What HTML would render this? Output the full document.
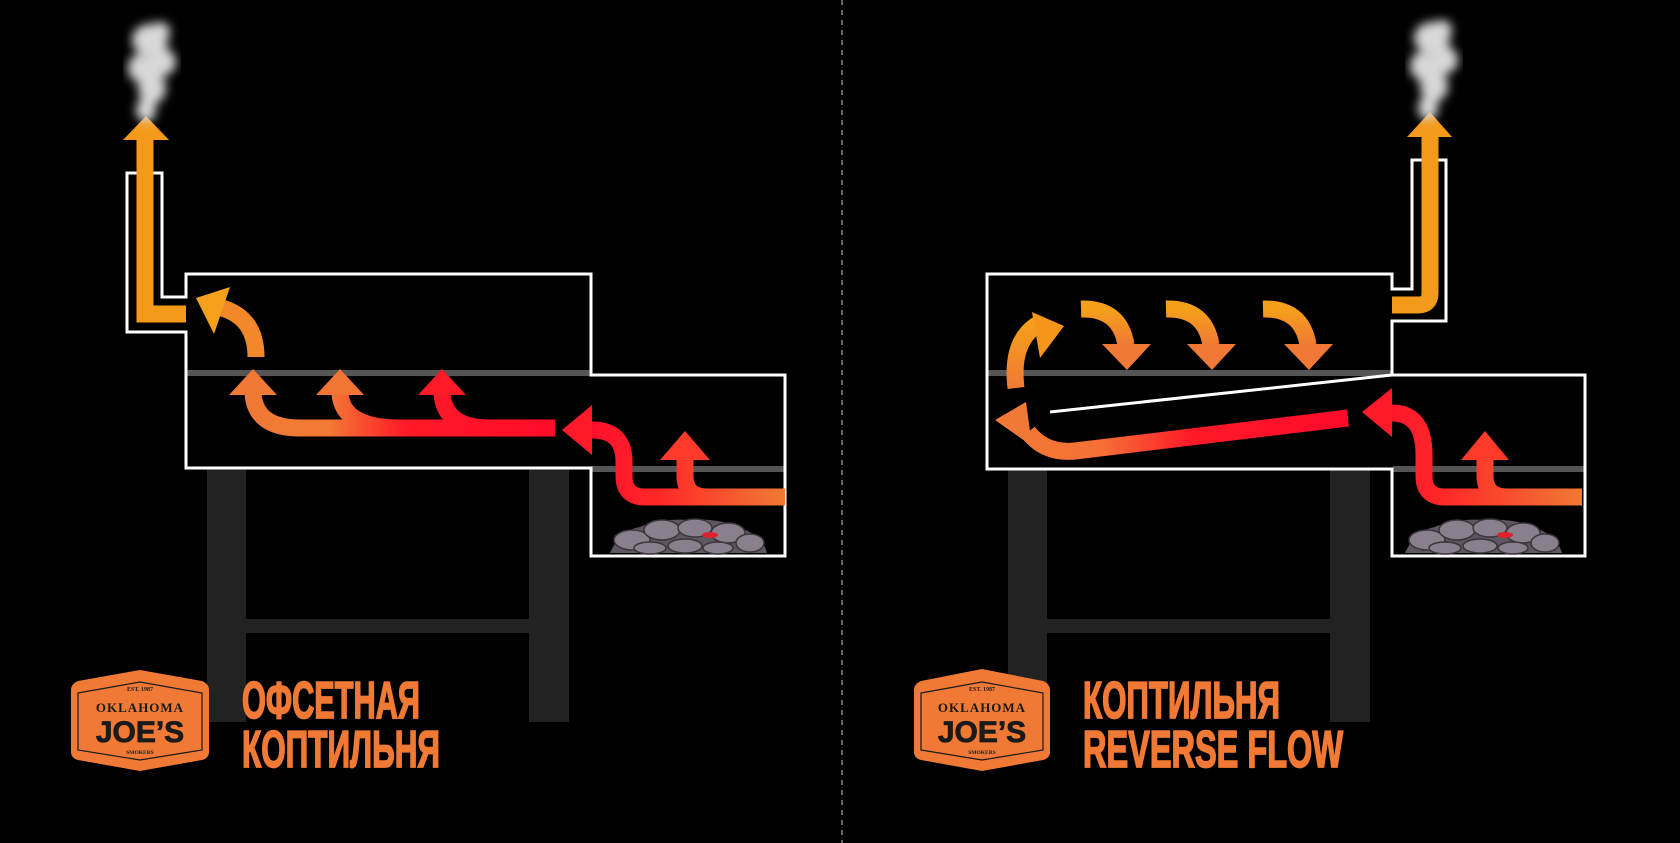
<!DOCTYPE html>
<html><head><meta charset="utf-8"><style>
html,body{margin:0;padding:0;background:#000;}
svg{display:block}
</style></head><body>
<svg width="1680" height="843" viewBox="0 0 1680 843" xmlns="http://www.w3.org/2000/svg">
<defs>
<linearGradient id="gL" gradientUnits="userSpaceOnUse" x1="250" y1="0" x2="560" y2="0">
<stop offset="0" stop-color="#f07a35"/><stop offset="0.25" stop-color="#f27a35"/><stop offset="0.5" stop-color="#ff1a28"/><stop offset="1" stop-color="#ff0a2a"/></linearGradient>
<linearGradient id="gF" gradientUnits="userSpaceOnUse" x1="580" y1="0" x2="785" y2="0">
<stop offset="0" stop-color="#ff0a2a"/><stop offset="0.4" stop-color="#ff2a28"/><stop offset="1" stop-color="#f07a35"/></linearGradient>
<linearGradient id="gF2" gradientUnits="userSpaceOnUse" x1="1355" y1="0" x2="1585" y2="0">
<stop offset="0" stop-color="#ff0a2a"/><stop offset="0.4" stop-color="#ff2a28"/><stop offset="1" stop-color="#f07a35"/></linearGradient>
<linearGradient id="gR" gradientUnits="userSpaceOnUse" x1="995" y1="0" x2="1350" y2="0">
<stop offset="0" stop-color="#f07a35"/><stop offset="0.3" stop-color="#f57035"/><stop offset="0.55" stop-color="#ff1a28"/><stop offset="1" stop-color="#ff0a2a"/></linearGradient>
<linearGradient id="gD" x1="0" y1="0" x2="0" y2="1">
<stop offset="0" stop-color="#f5a01a"/><stop offset="1" stop-color="#f07a35"/></linearGradient>
<filter id="blur"><feGaussianBlur stdDeviation="3"/></filter>
<filter id="blur2"><feGaussianBlur stdDeviation="5"/></filter>
</defs>
<rect width="1680" height="843" fill="#000"/>
<line x1="842" y1="0" x2="842" y2="843" stroke="#666" stroke-width="2" stroke-dasharray="5,5"/>

<g fill="#222">
<rect x="207" y="468" width="39" height="254"/><rect x="529" y="468" width="40" height="254"/>
<rect x="246" y="619" width="283" height="14"/>
<rect x="1008" y="469" width="39" height="253"/><rect x="1330" y="469" width="40" height="253"/>
<rect x="1047" y="619" width="283" height="14"/>
</g>
<rect x="187" y="370" width="404" height="6" fill="#555"/>
<rect x="592" y="466" width="192" height="6" fill="#555"/>
<rect x="988" y="370" width="404" height="6" fill="#555"/>
<rect x="1393" y="466" width="191" height="6" fill="#555"/>
<g fill="none" stroke="#fff" stroke-width="3">
<path d="M186,274 H591 V375 H785 V556 H591 V468 H186 V332 H127 V173 H162 V297 H186 Z"/>
<path d="M987,274 H1392 V289 H1412 V160 H1446 V321 H1392 V375 H1585 V556 H1392 V469 H987 Z"/>
<line x1="1050" y1="412" x2="1392" y2="375"/>
</g>
<!-- coals -->
<g id="coals">
<path d="M610,553 Q620,530 640,527 Q660,518 690,520 Q720,518 740,528 Q762,535 767,553 Z" fill="#5e5660"/>
<g fill="#8a7f8c" stroke="#3a343c" stroke-width="1.5">
<ellipse cx="632" cy="540" rx="18" ry="10"/><ellipse cx="662" cy="530" rx="18" ry="10"/><ellipse cx="695" cy="528" rx="17" ry="9"/><ellipse cx="728" cy="533" rx="17" ry="10"/><ellipse cx="750" cy="543" rx="14" ry="9"/>
<ellipse cx="650" cy="548" rx="16" ry="6"/><ellipse cx="685" cy="546" rx="17" ry="7"/><ellipse cx="718" cy="548" rx="15" ry="6"/>
</g>
<ellipse cx="710" cy="535" rx="8" ry="3" fill="#e0202a"/>
</g>
<use href="#coals" transform="translate(795,0)"/>

<g fill="none" stroke-width="17">
<path d="M785,497 H645 Q624,497 624,476 V462 Q624,430 592,430" stroke="url(#gF)"/>
<path d="M785,497 H708 Q685,497 685,476 V458" stroke="url(#gF)"/>
<path d="M555,428 H300 Q255,428 253,393" stroke="url(#gL)"/>
<path d="M400,428 Q342,428 340,393" stroke="url(#gL)"/>
<path d="M490,428 Q444,428 442,393" stroke="url(#gL)"/>
<path d="M256,357 Q256,318 222,308" stroke="#f3882a"/>
<path d="M186,314 H145 V138" stroke="#f39a1a"/>
</g>
<polygon points="562,430 592,405 592,455" fill="#ff1a2a"/>
<polygon points="660,460 710,460 685,431" fill="#ff3a2a"/>
<polygon points="229,395 277,395 253,369" fill="#f07a35"/>
<polygon points="316,395 364,395 340,369" fill="#f27535"/>
<polygon points="418,395 466,395 442,369" fill="#ff1a28"/>
<polygon points="196,298 230,287 214,334" fill="#f5a01a"/>
<polygon points="123,140 169,140 146,116" fill="#f39a1a"/>

<g fill="none" stroke-width="17">
<path d="M1348,418 L1075,451 Q1045,454 1028,432" stroke="url(#gR)"/>
<path d="M1582,497 H1445 Q1424,497 1424,476 V455 Q1424,413 1392,413" stroke="url(#gF2)"/>
<path d="M1582,497 H1508 Q1485,497 1485,476 V458" stroke="url(#gF2)"/>
<path d="M1016,388 Q1010,338 1042,322" stroke="url(#gD)"/>
<path d="M1081,309 Q1120,308 1126,345" stroke="url(#gD)"/>
<path d="M1166,309 Q1205,308 1211,345" stroke="url(#gD)"/>
<path d="M1263,309 Q1302,308 1308,345" stroke="url(#gD)"/>
<path d="M1392,305 H1418 Q1430,305 1430,293 V135" stroke="#f39a1a"/>
</g>
<polygon points="995,420 1026,402 1032,446" fill="#f07a35"/>
<polygon points="1362,412 1392,388 1392,437" fill="#ff1a2a"/>
<polygon points="1461,460 1509,460 1485,431" fill="#ff3a2a"/>
<polygon points="1064,326 1032,312 1040,358" fill="#f5951a"/>
<polygon points="1102,344 1151,344 1127,370" fill="#f07a35"/>
<polygon points="1187,344 1236,344 1212,370" fill="#f07a35"/>
<polygon points="1284,344 1333,344 1309,370" fill="#f07a35"/>
<polygon points="1407,137 1452,137 1430,112" fill="#f39a1a"/>

<!-- smoke -->
<g id="smoke" fill="#d8d8d8" filter="url(#blur2)">
<ellipse cx="150" cy="40" rx="18" ry="16"/><ellipse cx="162" cy="62" rx="14" ry="14"/><ellipse cx="140" cy="68" rx="12" ry="14"/>
<ellipse cx="152" cy="88" rx="14" ry="16"/><ellipse cx="146" cy="110" rx="10" ry="12"/><ellipse cx="160" cy="32" rx="10" ry="10"/>
</g>
<use href="#smoke" transform="translate(1282,-2)"/>

<g font-family="'Liberation Serif', serif" font-weight="bold" fill="#1a1a1a" text-anchor="middle">
<path d="M71,690 Q71,684 78,681 L140,670 L202,681 Q209,684 209,690 V752 Q209,758 202,760 L140,771 L78,760 Q71,758 71,752 Z" fill="#f07a35"/>
<path d="M78,693 L140,682 L202,693 V750 L140,760 L78,750 Z" fill="none" stroke="#1a1a1a" stroke-width="1.2"/>
<text x="140" y="691" font-size="6">EST. 1987</text>
<text x="140" y="712" font-size="13" letter-spacing="1">OKLAHOMA</text>
<text x="140" y="742" font-size="30" font-family="'Liberation Sans Narrow','Liberation Sans',sans-serif" stroke="#1a1a1a" stroke-width="0.8">JOE’S</text>
<text x="140" y="754" font-size="5.5">SMOKERS</text>
<path d="M914,690 Q914,684 921,681 L982,669 L1043,681 Q1050,684 1050,690 V752 Q1050,758 1043,760 L982,771 L921,760 Q914,758 914,752 Z" fill="#f07a35"/>
<path d="M921,693 L982,682 L1043,693 V750 L982,760 L921,750 Z" fill="none" stroke="#1a1a1a" stroke-width="1.2"/>
<text x="982" y="691" font-size="6">EST. 1987</text>
<text x="982" y="712" font-size="13" letter-spacing="1">OKLAHOMA</text>
<text x="982" y="742" font-size="30" font-family="'Liberation Sans Narrow','Liberation Sans',sans-serif" stroke="#1a1a1a" stroke-width="0.8">JOE’S</text>
<text x="982" y="754" font-size="5.5">SMOKERS</text>
</g>

<g font-family="'Liberation Sans Narrow','Liberation Sans',sans-serif" font-weight="bold" font-size="52" fill="#f07a35" stroke="#f07a35" stroke-width="1.8">
<text x="242" y="718" textLength="178" lengthAdjust="spacingAndGlyphs">ОФСЕТНАЯ</text>
<text x="242" y="767" textLength="198" lengthAdjust="spacingAndGlyphs">КОПТИЛЬНЯ</text>
<text x="1083" y="718" textLength="197" lengthAdjust="spacingAndGlyphs">КОПТИЛЬНЯ</text>
<text x="1083" y="767" textLength="260" lengthAdjust="spacingAndGlyphs">REVERSE FLOW</text>
</g>
</svg>
</body></html>
